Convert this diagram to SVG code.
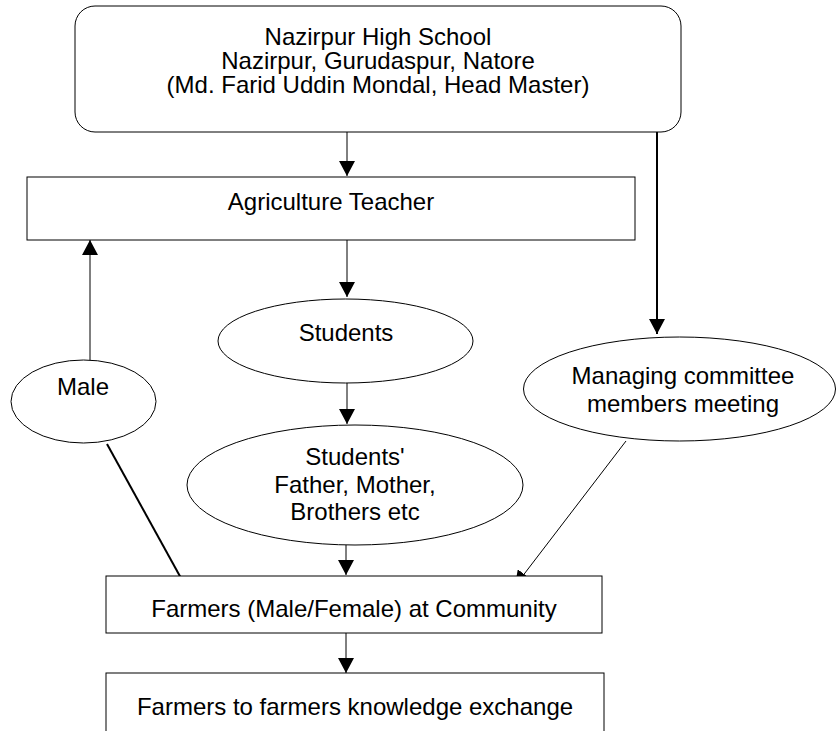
<svg xmlns="http://www.w3.org/2000/svg" width="836" height="731" viewBox="0 0 836 731">
<defs>
<style>
.box{fill:#fff;stroke:#000;stroke-width:1}
.t{font-family:"Liberation Sans",Arial,sans-serif;font-size:24px;fill:#000;text-anchor:middle}
.thin{stroke:#000;stroke-width:1;fill:none}
.thick{stroke:#000;stroke-width:2;fill:none}
</style>
<marker id="ah" markerUnits="userSpaceOnUse" markerWidth="16" markerHeight="16" refX="15" refY="8" orient="auto">
<path d="M0,0 L15,8 L0,16 z" fill="#000"/>
</marker>
</defs>
<rect width="836" height="731" fill="#fff"/>
<g id="connectors">
<line class="thin" x1="347" y1="132" x2="347" y2="176" marker-end="url(#ah)"/>
<line class="thin" x1="347" y1="240" x2="347" y2="297" marker-end="url(#ah)"/>
<line class="thin" x1="347" y1="383" x2="347" y2="424" marker-end="url(#ah)"/>
<line class="thin" x1="346" y1="545" x2="346" y2="575" marker-end="url(#ah)"/>
<line class="thin" x1="346" y1="633" x2="346" y2="673" marker-end="url(#ah)"/>
<line class="thin" x1="90" y1="360" x2="90" y2="240" marker-end="url(#ah)"/>
<line class="thick" x1="107" y1="444" x2="187" y2="589"/>
<line class="thick" x1="657" y1="132" x2="657" y2="334" marker-end="url(#ah)"/>
<line class="thin" x1="626" y1="441" x2="515" y2="586" marker-end="url(#ah)"/>
</g>
<g id="school">
<rect class="box" x="75" y="6" width="606" height="126" rx="20" ry="20"/>
<text class="t" x="378" y="45">Nazirpur High School</text>
<text class="t" x="378" y="69">Nazirpur, Gurudaspur, Natore</text>
<text class="t" x="378" y="93">(Md. Farid Uddin Mondal, Head Master)</text>
</g>
<g id="teacher">
<rect class="box" x="27" y="177" width="608" height="63"/>
<text class="t" x="331" y="210">Agriculture Teacher</text>
</g>
<g id="students">
<ellipse class="box" cx="345.5" cy="341" rx="127.5" ry="42"/>
<text class="t" x="346" y="341">Students</text>
</g>
<g id="family">
<ellipse class="box" cx="355" cy="485" rx="168" ry="60"/>
<text class="t" x="355" y="465">Students'</text>
<text class="t" x="355" y="493">Father, Mother,</text>
<text class="t" x="355" y="520">Brothers etc</text>
</g>
<g id="male">
<ellipse class="box" cx="83.5" cy="401.5" rx="72.5" ry="41.5"/>
<text class="t" x="83" y="395">Male</text>
</g>
<g id="committee">
<ellipse class="box" cx="679.5" cy="389" rx="156" ry="52"/>
<text class="t" x="683" y="384">Managing committee</text>
<text class="t" x="683" y="412">members meeting</text>
</g>
<g id="farmers">
<rect class="box" x="106" y="576" width="496" height="57"/>
<text class="t" x="354" y="617">Farmers (Male/Female) at Community</text>
</g>
<g id="exchange">
<rect class="box" x="106" y="673" width="498" height="70"/>
<text class="t" x="355" y="715">Farmers to farmers knowledge exchange</text>
</g>
</svg>
